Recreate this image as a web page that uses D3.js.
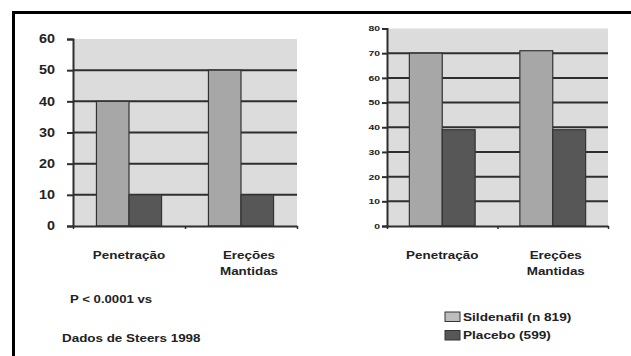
<!DOCTYPE html>
<html>
<head>
<meta charset="utf-8">
<script src="https://cdn.jsdelivr.net/npm/d3@7/dist/d3.min.js"></script>
<style>
  html, body { margin: 0; padding: 0; background: #fff; }
  svg { display: block; }
  text { font-family: "Liberation Sans", Arial, sans-serif; font-weight: bold; fill: #222; }
</style>
</head>
<body>
<svg id="chart" width="631" height="356"></svg>
<script>
// Categories shared by both panels
const categories = ["Penetração", "Ereções Mantidas"];
const series = ["Sildenafil (n 819)", "Placebo (599)"];

// Left panel values
const leftSildenafil = [40, 50];
const leftPlacebo = [10, 10];
const leftTicks = [0, 10, 20, 30, 40, 50, 60];

// Right panel values
const rightSildenafil = [70, 71];
const rightPlacebo = [39, 39];
const rightTicks = [0, 10, 20, 30, 40, 50, 60, 70, 80];

const notes = ["P < 0.0001 vs", "Dados de Steers 1998"];

const colors = { "Sildenafil (n 819)": "#a7a7a7", "Placebo (599)": "#575757" };

const svg = d3.select("#chart");

// Stretched text helper (the type in this figure is set wide)
function label(g, x, y, str, size, anchor, sx) {
  return g.append("text")
    .attr("transform", `translate(${x},${y}) scale(${sx},1)`)
    .attr("text-anchor", anchor)
    .style("font-size", size + "px")
    .text(str);
}

// Outer frame (top and left rules)
svg.append("path")
  .attr("d", "M13.5,356 L13.5,12.5 L631,12.5")
  .attr("fill", "none").attr("stroke", "#000").attr("stroke-width", 3);

function panel(opts) {
  const g = svg.append("g");
  const y = d3.scaleLinear().domain([0, d3.max(opts.ticks)]).range([opts.y1, opts.y0]);
  const x = d3.scaleBand().domain(categories).range([opts.x0, opts.x1]);
  const xs = d3.scaleBand().domain(series).range([0, x.bandwidth()]).paddingOuter(opts.pad);

  // plot area
  g.append("rect")
    .attr("x", opts.x0).attr("y", opts.y0)
    .attr("width", opts.x1 - opts.x0).attr("height", opts.y1 - opts.y0)
    .attr("fill", "#dcdcdc");

  // gridlines
  const inner = opts.ticks.slice(1, -1);
  g.selectAll(".grid").data(inner).join("line")
    .attr("x1", opts.x0).attr("x2", opts.x1)
    .attr("y1", d => y(d)).attr("y2", d => y(d))
    .attr("stroke", "#2e2e2e").attr("stroke-width", 2);

  // bars
  const rows = categories.map((c, i) => ({ c, vals: [opts.s[i], opts.p[i]] }));
  rows.forEach(r => {
    g.selectAll(null).data(series.map((s, j) => ({ s, v: r.vals[j] }))).join("rect")
      .attr("x", d => x(r.c) + xs(d.s))
      .attr("y", d => y(d.v))
      .attr("width", xs.bandwidth())
      .attr("height", d => y(0) - y(d.v))
      .attr("fill", d => colors[d.s])
      .attr("stroke", "#333").attr("stroke-width", 1.2);
  });

  // y axis
  const ya = d3.axisLeft(y).tickValues(opts.ticks).tickSize(opts.tick).tickFormat("");
  const yg = g.append("g").attr("transform", `translate(${opts.x0},0)`).call(ya);
  yg.select(".domain").attr("stroke", "#2e2e2e").attr("stroke-width", 2);
  yg.selectAll(".tick line").attr("stroke", "#2e2e2e").attr("stroke-width", 2);
  opts.ticks.forEach(t => label(g, opts.x0 - opts.tick - opts.gap, y(t) + opts.fs * 0.36, String(t), opts.fs, "end", opts.sx));

  // x axis
  const xa = d3.axisBottom(d3.scaleLinear().domain([0, 2]).range([opts.x0, opts.x1]))
    .tickValues([0, 1, 2]).tickSize(3).tickSizeOuter(0).tickFormat("");
  const xg = g.append("g").attr("transform", `translate(0,${y(0)})`).call(xa);
  xg.select(".domain").attr("stroke", "#2e2e2e").attr("stroke-width", 2);
  xg.selectAll(".tick line").attr("stroke", "#2e2e2e").attr("stroke-width", 1.5);

  // category labels
  categories.forEach(c => {
    const words = c.split(" ");
    const cx = x(c) + x.bandwidth() / 2 + opts.labelShift * (words.length - 1);
    words.forEach((w, k) => label(g, cx, 259 + k * 16, w, 11, "middle", 1.22));
  });
  return g;
}

panel({ x0: 73, x1: 297, y0: 39, y1: 226, ticks: leftTicks, s: leftSildenafil, p: leftPlacebo,
        pad: 0.72, tick: 6, gap: 12, fs: 12, sx: 1.2, labelShift: 8 });
panel({ x0: 387, x1: 608, y0: 28.5, y1: 226, ticks: rightTicks, s: rightSildenafil, p: rightPlacebo,
        pad: 0.68, tick: 5, gap: 2, fs: 8, sx: 1.3, labelShift: 3 });

// notes under left panel
label(svg, 70, 303, notes[0], 11, "start", 1.2);
label(svg, 62, 342, notes[1], 11, "start", 1.22);

// legend
const leg = svg.append("g").attr("transform", "translate(445,312)");
series.forEach((s, i) => {
  leg.append("rect").attr("x", 0).attr("y", i * 18.5).attr("width", 15).attr("height", 9.5)
    .attr("fill", i === 0 ? "#bdbdbd" : colors[s]).attr("stroke", "#333").attr("stroke-width", 1);
  label(leg, 18, i * 18.5 + 8.5, s, 11, "start", 1.24);
});
</script>
</body>
</html>
